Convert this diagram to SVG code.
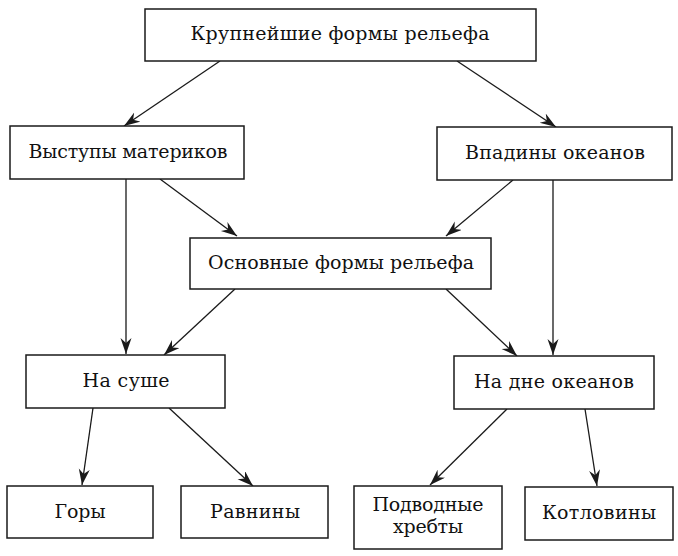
<svg xmlns="http://www.w3.org/2000/svg" width="678" height="556" viewBox="0 0 678 556">
<defs>
<style>
.box{fill:#fff;stroke:#1a1a1a;stroke-width:1.5}
.t{font-family:"DejaVu Serif","Liberation Serif",serif;font-size:19px;fill:#111;text-anchor:middle}
.c{stroke:#1a1a1a;stroke-width:1.3;fill:none;marker-end:url(#ah)}
</style>
<marker id="ah" markerUnits="userSpaceOnUse" markerWidth="18" markerHeight="12" refX="16" refY="5.5" orient="auto">
<path d="M0,0 L16,5.5 L0,11 L5,5.5 Z" fill="#1a1a1a"/>
</marker>
</defs>
<rect width="678" height="556" fill="#fff"/>
<g id="connectors">
<line class="c" x1="220" y1="61" x2="124" y2="126"/>
<line class="c" x1="457" y1="61" x2="556" y2="127"/>
<line class="c" x1="160" y1="179" x2="237" y2="236"/>
<line class="c" x1="513" y1="180" x2="446" y2="236"/>
<line class="c" x1="126" y1="179" x2="126" y2="354"/>
<line class="c" x1="553" y1="180" x2="553" y2="355"/>
<line class="c" x1="235" y1="289" x2="164" y2="355"/>
<line class="c" x1="446" y1="289" x2="517" y2="356"/>
<line class="c" x1="93" y1="408" x2="82" y2="485"/>
<line class="c" x1="169" y1="408" x2="253" y2="486"/>
<line class="c" x1="507" y1="409" x2="430" y2="485"/>
<line class="c" x1="585" y1="409" x2="597" y2="486"/>
</g>
<g id="n-top"><rect class="box" x="145" y="9" width="391" height="52"/><text class="t" x="340" y="40" textLength="299" lengthAdjust="spacing">Крупнейшие формы рельефа</text></g>
<g id="n-vystupy"><rect class="box" x="10" y="126" width="234" height="53"/><text class="t" x="128" y="158" textLength="199" lengthAdjust="spacing">Выступы материков</text></g>
<g id="n-vpadiny"><rect class="box" x="437" y="127" width="235" height="53"/><text class="t" x="555" y="159" textLength="180" lengthAdjust="spacing">Впадины океанов</text></g>
<g id="n-osnovnye"><rect class="box" x="190" y="238" width="301" height="51"/><text class="t" x="341" y="269" textLength="266" lengthAdjust="spacing">Основные формы рельефа</text></g>
<g id="n-sushe"><rect class="box" x="26" y="355" width="199" height="53"/><text class="t" x="126" y="387" textLength="87" lengthAdjust="spacing">На суше</text></g>
<g id="n-dne"><rect class="box" x="454" y="356" width="200" height="53"/><text class="t" x="554" y="388" textLength="160" lengthAdjust="spacing">На дне океанов</text></g>
<g id="n-gory"><rect class="box" x="7" y="486" width="146" height="52"/><text class="t" x="80" y="518" textLength="51" lengthAdjust="spacing">Горы</text></g>
<g id="n-ravniny"><rect class="box" x="181" y="486" width="147" height="52"/><text class="t" x="255" y="518" textLength="90" lengthAdjust="spacing">Равнины</text></g>
<g id="n-khrebty"><rect class="box" x="354" y="486" width="148" height="63"/><text class="t" x="428" y="511" textLength="111" lengthAdjust="spacing">Подводные</text><text class="t" x="428" y="533" textLength="70" lengthAdjust="spacing">хребты</text></g>
<g id="n-kotloviny"><rect class="box" x="525" y="487" width="148" height="53"/><text class="t" x="599" y="519" textLength="114" lengthAdjust="spacing">Котловины</text></g>
</svg>
